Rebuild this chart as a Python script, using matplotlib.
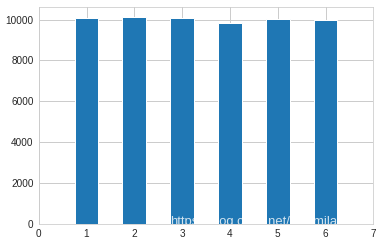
import matplotlib
matplotlib.use("Agg")
import matplotlib.pyplot as plt
import seaborn as sns

faces = [1, 2, 3, 4, 5, 6]
counts = [10065, 10130, 10065, 9837, 10016, 9967]
xticks = [0, 1, 2, 3, 4, 5, 6, 7]
yticks = [0, 2000, 4000, 6000, 8000, 10000]

sns.set_style("whitegrid")
plt.rcParams['font.family'] = ['Liberation Sans', 'DejaVu Sans']

fig = plt.figure(figsize=(383/72, 244/72), dpi=72)
ax = fig.add_axes([38.7/383, (244-224)/244, (373.3-38.7)/383, (224-6.5)/244])
ax.bar(faces, counts, width=0.5, color='#1f77b4', zorder=2)
ax.set_xlim(0, 7)
ax.set_xticks(xticks)
ax.set_yticks(yticks)
ax.set_ylim(0, max(counts) * 1.05)
ax.tick_params(labelsize=10, colors='.15', length=0, pad=5)
for s in ax.spines.values():
    s.set_color('.8')
ax.grid(True, color='.8', linewidth=1)
ax.set_axisbelow(True)
ax.text(2.75, -60, "https://blog.csdn.net/yxiemila", color='white', alpha=0.8,
        fontsize=13, va='baseline', ha='left', zorder=3, clip_on=True)
fig.savefig("out.png", dpi=72)
